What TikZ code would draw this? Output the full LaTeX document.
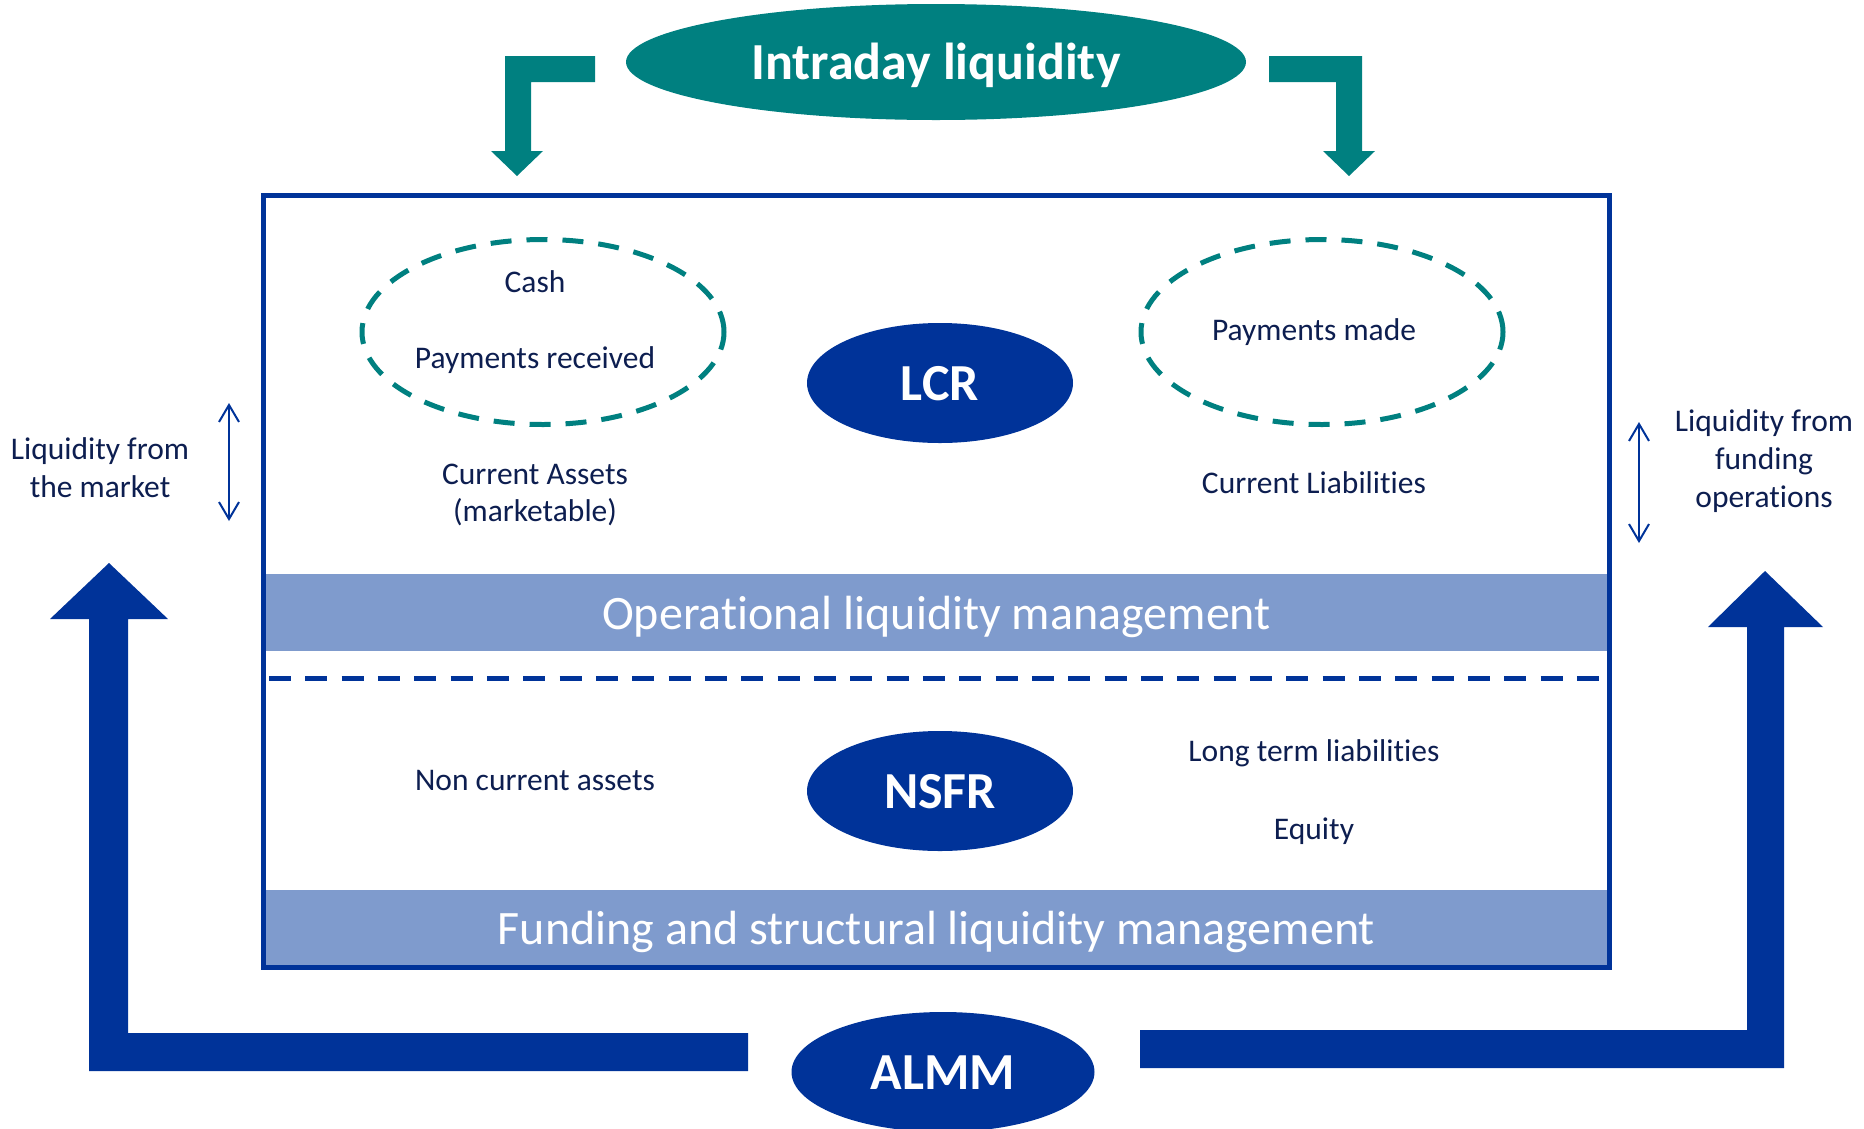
\documentclass[tikz,border=0pt]{standalone}
\usepackage{fontspec}
\setmainfont{Carlito}[Ligatures=NoCommon]
\usetikzlibrary{arrows.meta, shapes.geometric, positioning}
\definecolor{tealc}{RGB}{0,128,128}
\definecolor{navyc}{RGB}{0,51,153}
\definecolor{bandc}{RGB}{127,155,205}
\definecolor{inkc}{RGB}{13,30,80}

\begin{document}
\begin{tikzpicture}[x=1pt,y=-1pt,>={Straight Barb[length=17pt,width=20pt]},
  oval node/.style={ellipse,fill=navyc,text=white,inner sep=0pt,minimum width=266pt,minimum height=120pt,
    font=\fontsize{52}{60}\selectfont\bfseries,text height=35pt,text depth=0pt},
  dash node/.style={ellipse,draw=tealc,line width=5pt,dash pattern=on 21pt off 15pt,
    minimum width=362pt,minimum height=185pt},
  band node/.style={rectangle,fill=bandc,text=white,inner sep=0pt,minimum width=1341pt,
    font=\fontsize{48}{56}\selectfont,text height=33pt,text depth=0pt},
  text node/.style={text=inkc,inner sep=0pt,align=center,font=\fontsize{31.5}{38}\selectfont}]
  \useasboundingbox (0,0) rectangle (1864,1128);
  % big arrows from ALMM
  \fill[navyc] (89,1071) -- (89,619) -- (50,619) -- (109,563) -- (168,619) -- (128,619)
    -- (128,1033) -- (748,1033) -- (748,1071) -- cycle;
  \fill[navyc] (1140,1030) -- (1747,1030) -- (1747,627) -- (1708,627) -- (1765,571)
    -- (1823,627) -- (1784,627) -- (1784,1068) -- (1140,1068) -- cycle;
  % intraday arrows
  \fill[tealc] (595,56) -- (505,56) -- (505,151) -- (491,151) -- (517,176) -- (543,151)
    -- (531,151) -- (531,82) -- (595,82) -- cycle;
  \fill[tealc] (1269,56) -- (1362,56) -- (1362,151) -- (1375,151) -- (1349,176) -- (1323,151)
    -- (1336,151) -- (1336,82) -- (1269,82) -- cycle;
  \node[band node,minimum height=77pt] (7) at (936.5,612.5) {Operational liquidity management};
  \node[band node,minimum height=75pt] (8) at (936.5,927.5) {Funding and structural liquidity management};
  \node[draw=navyc,line width=5pt,inner sep=0pt,minimum width=1346pt,minimum height=771.5pt] (0) at (936.5,581.25) {};
  \draw[navyc,line width=5pt,dash pattern=on 22pt off 14.33pt] (269,678) -- (1599,678);
  \node[oval node,fill=tealc,minimum width=620pt,minimum height=116pt] (1) at (936,62) {Intraday liquidity};
  \node[oval node] (2) at (940,383) {LCR};
  \node[oval node] (3) at (940,791) {NSFR};
  \node[oval node,minimum width=303pt] (4) at (943,1072) {ALMM};
  \node[dash node] (5) at (543,332) {};
  \node[dash node] (6) at (1322,332) {};
  \node[text node,anchor=base] (9) at (535,292) {Cash};
  \node[text node] (10) [below=76pt of 9.base,anchor=base] {Payments received};
  \node[text node,font=\fontsize{31.5}{37}\selectfont] (11) at (535,495) {Current Assets\\(marketable)};
  \node[text node,anchor=base] (12) at (1314,340) {Payments made};
  \node[text node,anchor=base] (13) at (1314,493) {Current Liabilities};
  \node[text node,anchor=base] (14) at (535,790) {Non current assets};
  \node[text node,anchor=base] (15) at (1314,761) {Long term liabilities};
  \node[text node] (16) [below=78pt of 15.base,anchor=base] {Equity};
  \node[text node] (17) at (100,468) {Liquidity from\\the market};
  \node[text node] (18) at (1764,461) {Liquidity from\\funding\\operations};
  \coordinate (19) at (229,403);
  \coordinate (20) at (229,521);
  \coordinate (21) at (1639,422);
  \coordinate (22) at (1639,543);
  \path[<->,navyc,line width=2pt]
    (19) edge (20)
    (21) edge (22);
\end{tikzpicture}
\end{document}
